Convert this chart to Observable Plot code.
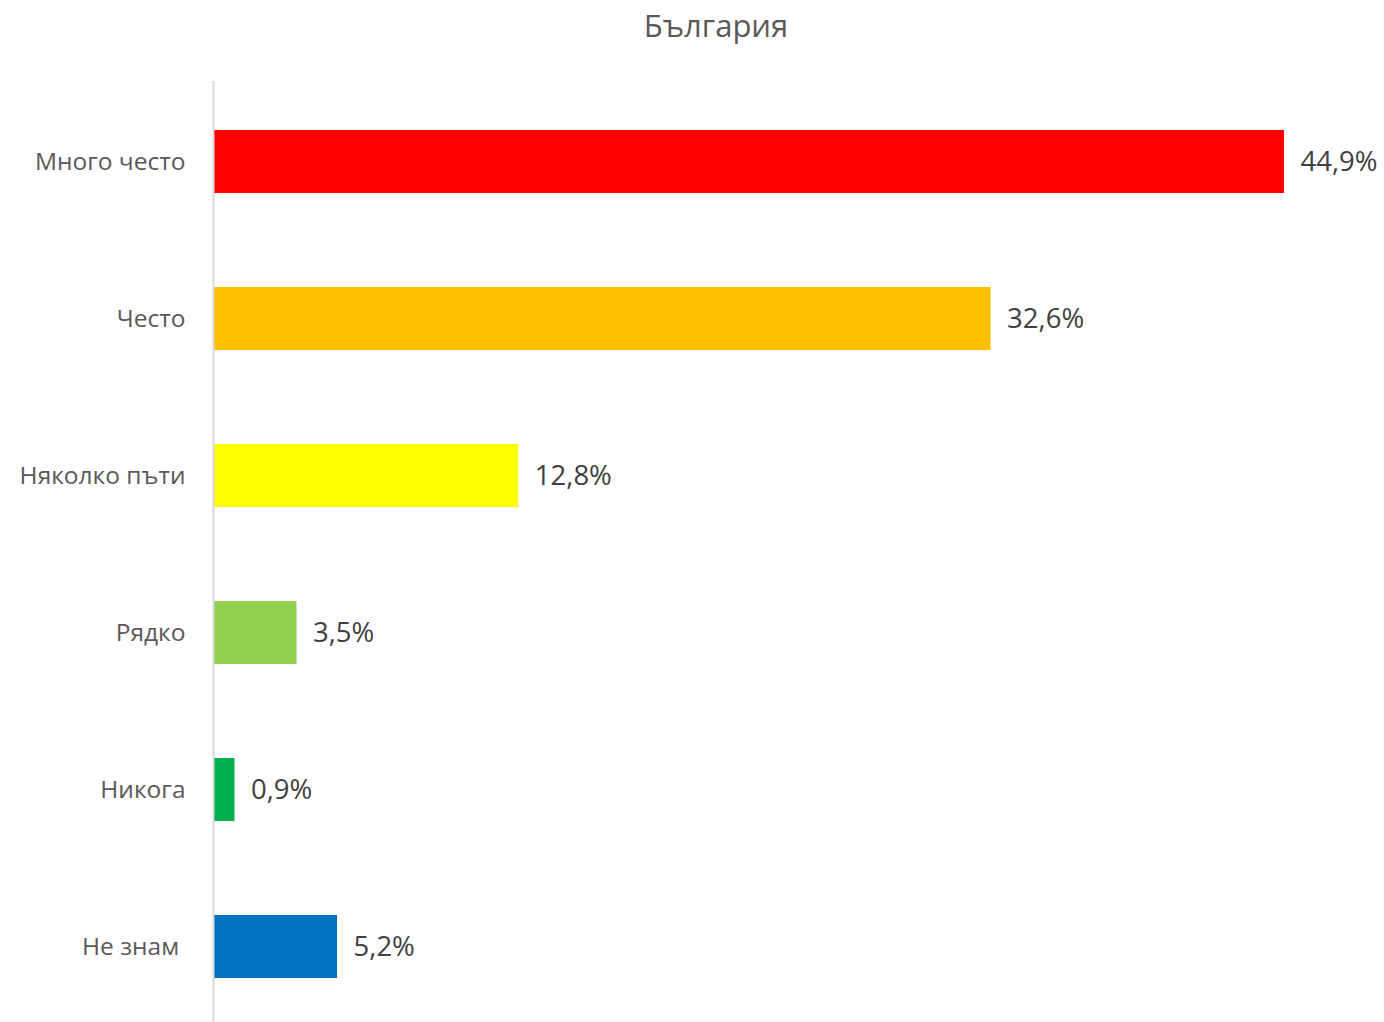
<!DOCTYPE html>
<html>
<head>
<meta charset="utf-8">
<script src="https://cdn.jsdelivr.net/npm/d3@7"></script>
<script src="https://cdn.jsdelivr.net/npm/@observablehq/plot@0.6"></script>
<style>
  html, body { margin: 0; padding: 0; background: #fff; overflow: hidden; }
  #title { height: 56px; width: 1384px; position: relative; font-family: "Open Sans", sans-serif; font-size: 31px; color: #595959; }
  #title span { position: absolute; left: 716px; top: 4px; transform: translateX(-50%); white-space: nowrap; }
  svg { display: block; }
</style>
</head>
<body>
<div id="title"><span>България</span></div>
<div id="chart"></div>
<script>
const categories = ["Много често", "Често", "Няколко пъти", "Рядко", "Никога", "Не знам\u00A0"];
const values = [44.9, 32.6, 12.8, 3.5, 0.9, 5.2];
const valueLabels = ["44,9%", "32,6%", "12,8%", "3,5%", "0,9%", "5,2%"];
const colors = ["#ff0000", "#ffc000", "#ffff00", "#92d050", "#00b050", "#0070c0"];

const data = categories.map((c, i) => ({cat: c, value: values[i], label: valueLabels[i], color: colors[i]}));

const chart = Plot.plot({
  width: 1384,
  height: 966,
  marginLeft: 213,
  marginRight: 100,
  marginTop: 25,
  marginBottom: -4,
  style: {fontFamily: "Open Sans, sans-serif", background: "#fff"},
  x: {domain: [0, d3.max(values)], axis: null},
  y: {domain: categories, paddingInner: 0.6, paddingOuter: 0.3, label: null},
  marks: [
    Plot.barX(data, {x: "value", y: "cat", fill: "color"}),
    Plot.ruleX([0], {stroke: "#d9d9d9", strokeWidth: 2}),
    Plot.axisY({tickSize: 0, tickPadding: 28, fontSize: 24.5, color: "#595959", label: null}),
    Plot.text(data, {x: "value", y: "cat", text: "label", dx: 16, textAnchor: "start", fontSize: 27.5, fill: "#404040"})
  ]
});
document.getElementById("chart").appendChild(chart);
</script>
</body>
</html>
